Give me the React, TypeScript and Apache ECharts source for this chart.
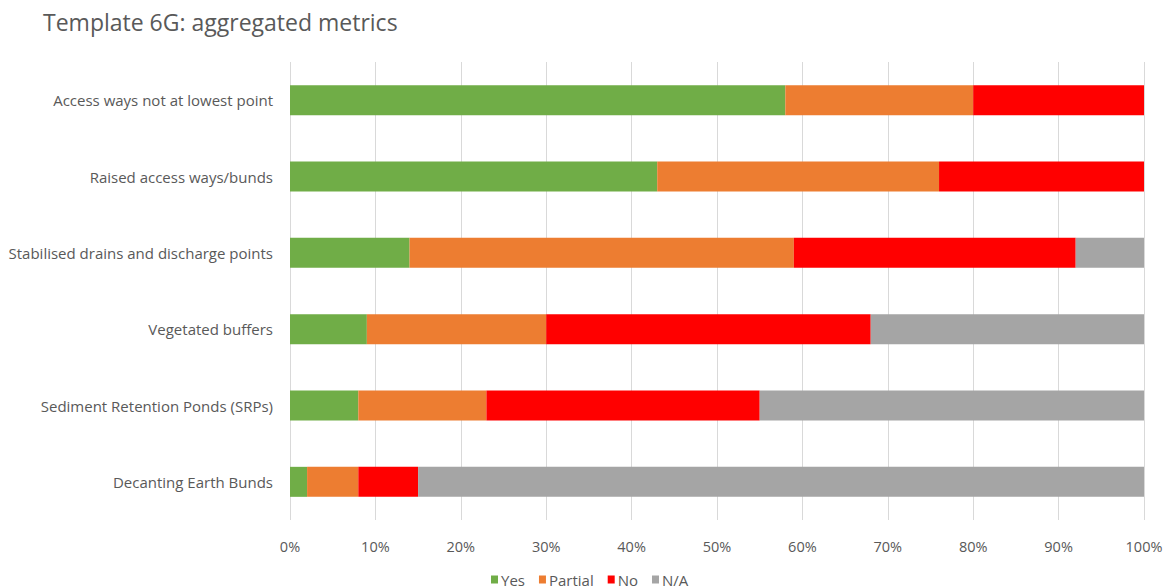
import React, { useEffect, useRef } from "react";
import * as echarts from "echarts";

const categories = [
  "Access ways not at lowest point",
  "Raised access ways/bunds",
  "Stabilised drains and discharge points",
  "Vegetated buffers",
  "Sediment Retention Ponds (SRPs)",
  "Decanting Earth Bunds",
];

const yesValues = [58, 43, 14, 9, 8, 2];
const partialValues = [22, 33, 45, 21, 15, 6];
const noValues = [20, 24, 33, 38, 32, 7];
const naValues = [0, 0, 8, 32, 45, 85];

const xTicks = [0, 10, 20, 30, 40, 50, 60, 70, 80, 90, 100];

const FONT = "'Open Sans', Lato, sans-serif";
const TEXT = "#595959";

export default function App() {
  const ref = useRef<HTMLDivElement>(null);

  useEffect(() => {
    if (!ref.current) return;
    const chart = echarts.init(ref.current, undefined, { renderer: "svg" });
    const mk = (name: string, data: number[], color: string) => ({
      name,
      type: "bar",
      stack: "total",
      data,
      barWidth: 30,
      itemStyle: { color },
      emphasis: { disabled: true },
    });
    chart.setOption({
      animation: false,
      backgroundColor: "#ffffff",
      title: {
        text: "Template 6G: aggregated metrics",
        left: 38,
        top: 5,
        textStyle: { fontFamily: FONT, fontSize: 23, fontWeight: "normal", color: TEXT },
      },
      legend: {
        data: ["Yes", "Partial", "No", "N/A"],
        top: 572,
        left: 491,
        padding: 0,
        itemWidth: 7,
        itemHeight: 8,
        itemGap: 14,
        icon: "rect",
        textStyle: { fontFamily: FONT, fontSize: 15, color: TEXT, padding: [0, 0, 0, -2] },
      },
      grid: { left: 290, right: 27, top: 62, bottom: 68, containLabel: false },
      xAxis: {
        type: "value",
        min: xTicks[0],
        max: xTicks[xTicks.length - 1],
        interval: 10,
        axisLine: { show: false },
        axisTick: { show: false },
        splitLine: { show: true, lineStyle: { color: "#d9d9d9", width: 1 } },
        axisLabel: {
          formatter: "{value}%",
          fontFamily: FONT,
          fontSize: 14.5,
          color: TEXT,
          margin: 19,
        },
      },
      yAxis: {
        type: "category",
        data: categories,
        inverse: true,
        axisLine: { show: false },
        axisTick: { show: false },
        axisLabel: { fontFamily: FONT, fontSize: 15, color: TEXT, margin: 17 },
      },
      series: [
        mk("Yes", yesValues, "#70ad47"),
        mk("Partial", partialValues, "#ed7d31"),
        mk("No", noValues, "#ff0000"),
        mk("N/A", naValues, "#a5a5a5"),
      ],
    });
    return () => chart.dispose();
  }, []);

  return (
    <div
      ref={ref}
      style={{ position: "fixed", left: 0, top: 0, width: 1171, height: 588, background: "#fff" }}
    />
  );
}
